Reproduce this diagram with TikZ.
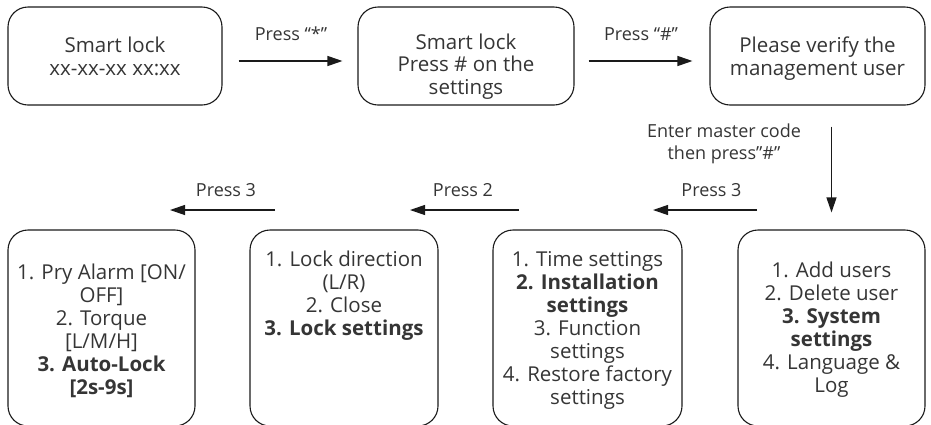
\documentclass[tikz,border=0pt]{standalone}
\usepackage{fontspec}
\setmainfont{Open Sans}
\usetikzlibrary{arrows.meta}
\definecolor{txtc}{HTML}{353535}
\definecolor{linec}{HTML}{1A1A1A}
\tikzset{
  box/.style={draw=linec, line width=1.1pt, rounded corners=20pt, inner sep=0pt},
  txt/.style={text=txtc, align=center, inner sep=0pt, anchor=base, font=\fontsize{20.5}{23}\selectfont},
  ttxt/.style={txt, font=\fontsize{20.5}{22.5}\selectfont},
  lbl/.style={text=txtc, align=center, inner sep=0pt, anchor=base, font=\fontsize{18}{22}\selectfont},
  arr/.style={draw=linec, line width=1.2pt, -{Triangle[length=15pt,width=10pt]}}
}
\begin{document}
\begin{tikzpicture}[x=1pt,y=-1pt]
\useasboundingbox (0,0) rectangle (931,424);
% top row boxes
\node[box, minimum width=214pt, minimum height=98pt] (b1) at (115,56) {};
\node[box, minimum width=216pt, minimum height=98pt] (b2) at (466,56) {};
\node[box, minimum width=215pt, minimum height=98pt] (b3) at (817.5,56) {};
% bottom row boxes
\node[box, minimum width=187pt, minimum height=196pt] (c1) at (101.5,328) {};
\node[box, minimum width=188pt, minimum height=196pt] (c2) at (344,328) {};
\node[box, minimum width=189pt, minimum height=196pt] (c3) at (587.5,328) {};
\node[box, minimum width=187pt, minimum height=196pt] (c4) at (831.5,328) {};
% texts (anchored at the baseline of their last line)
\node[ttxt] (t1) at (115,75) {Smart lock\\xx-xx-xx xx:xx};
\node[ttxt] (t2) at (466,94) {Smart lock\\Press \# on the\\settings};
\node[ttxt] (t3) at (817.5,75) {Please verify the\\management user};
\node[txt] (u1) at (101.5,394) {1. Pry Alarm [ON/\\OFF]\\2. Torque\\{}[L/M/H]\\\textbf{3. Auto-Lock}\\\textbf{[2s-9s]}};
\node[txt] (u2) at (344,335) {1. Lock direction\\(L/R)\\2. Close\\\textbf{3. Lock settings}};
\node[txt] (u3) at (587.5,404) {1. Time settings\\\textbf{2. Installation}\\\textbf{settings}\\3. Function\\settings\\4. Restore factory\\settings};
\node[txt] (u4) at (831.5,392) {1. Add users\\2. Delete user\\\textbf{3. System}\\\textbf{settings}\\4. Language \&\\Log};
% arrows
\draw[arr, shorten <=16pt, shorten >=15pt] ([yshift=-5pt]b1.east) -- ([yshift=-5pt]b2.west);
\node[lbl] (l1) at (291,40) {Press “*”};
\draw[arr, shorten <=14pt, shorten >=17pt] ([yshift=-5pt]b2.east) -- ([yshift=-5pt]b3.west);
\node[lbl] (l2) at (641,40) {Press “\#”};
\coordinate (v0) at (c4.north |- b3.south);
\draw[arr, shorten <=21pt, shorten >=17pt] (v0) -- (c4.north);
\node[lbl] (ml) at (724,159) {Enter master code\\then press"\#"};
\coordinate (a1s) at (757,210);
\coordinate (a1e) at (653,210);
\coordinate (a2s) at (519,210);
\coordinate (a2e) at (410,210);
\coordinate (a3s) at (275,210);
\coordinate (a3e) at (170,210);
\draw[arr] (a1s) -- (a1e);
\node[lbl] (p1) at (711.5,196) {Press 3};
\draw[arr] (a2s) -- (a2e);
\node[lbl] (p2) at (463,196) {Press 2};
\draw[arr] (a3s) -- (a3e);
\node[lbl] (p3) at (226,196) {Press 3};
\end{tikzpicture}
\end{document}
